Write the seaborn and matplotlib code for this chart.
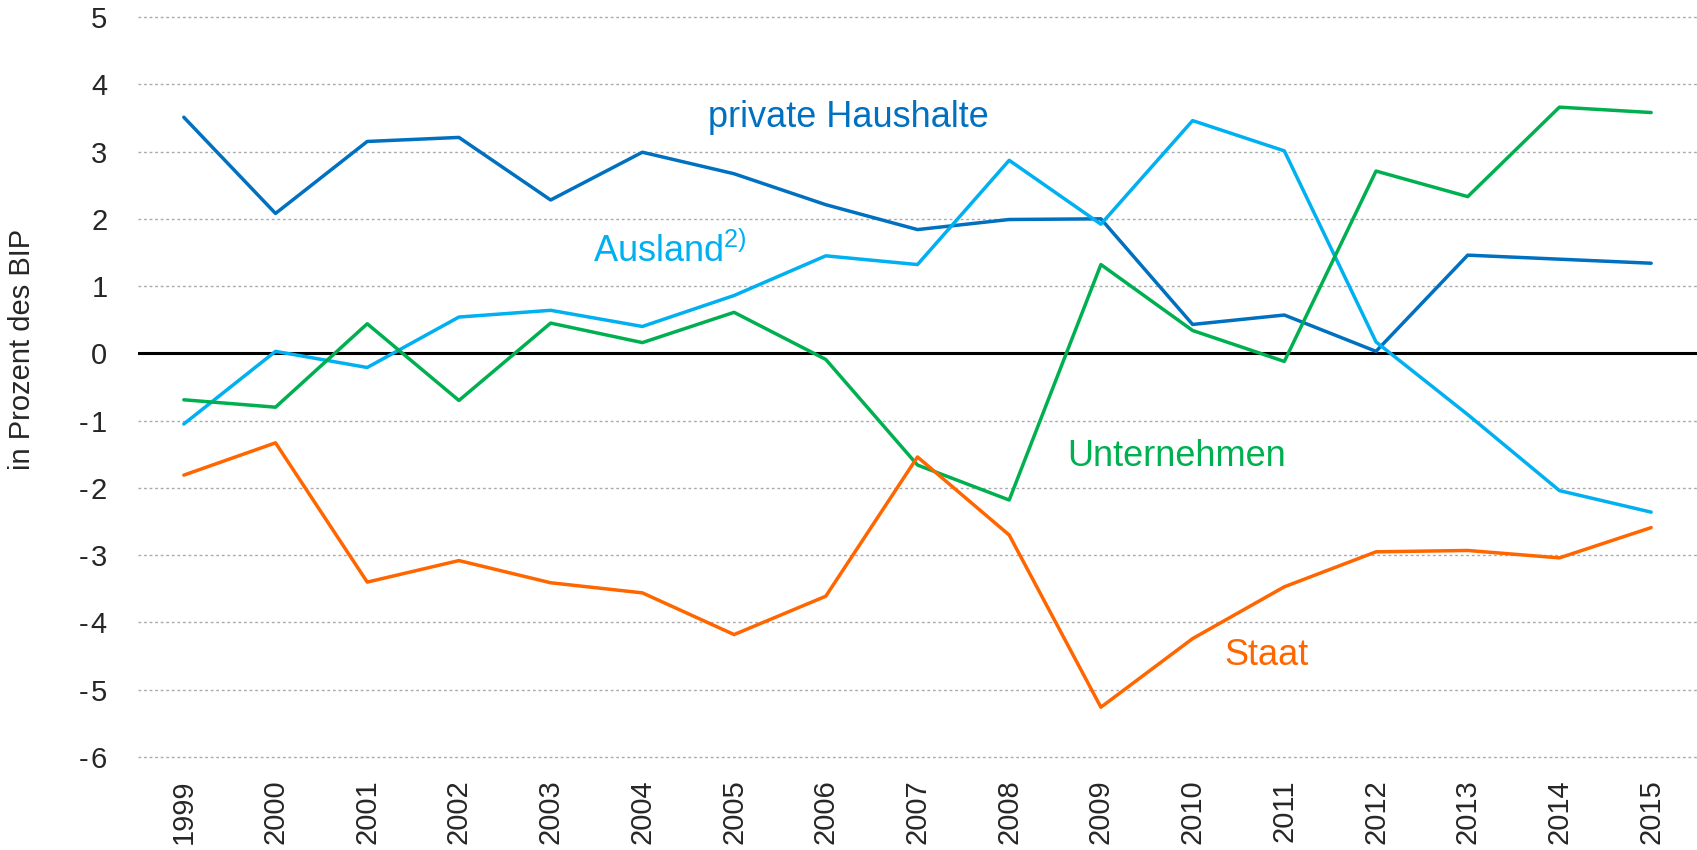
import pandas as pd
import matplotlib.pyplot as plt
import seaborn as sns

# Finanzierungssalden der Sektoren, in Prozent des BIP
years = [str(y) for y in range(1999, 2016)]
haushalte = [3.51, 2.08, 3.15, 3.21, 2.28, 2.99, 2.67, 2.21, 1.84, 1.99, 2.00, 0.43, 0.57, 0.03, 1.46, 1.40, 1.34]
ausland = [-1.05, 0.03, -0.21, 0.54, 0.64, 0.40, 0.86, 1.45, 1.32, 2.87, 1.92, 3.46, 3.01, 0.17, -0.91, -2.04, -2.36]
unternehmen = [-0.69, -0.80, 0.44, -0.70, 0.45, 0.16, 0.61, -0.09, -1.66, -2.18, 1.32, 0.34, -0.12, 2.71, 2.33, 3.66, 3.58]
staat = [-1.81, -1.33, -3.40, -3.08, -3.41, -3.56, -4.18, -3.61, -1.54, -2.70, -5.26, -4.24, -3.47, -2.95, -2.93, -3.04, -2.59]
yticks = list(range(-6, 6))

series = {"private Haushalte": haushalte, "Ausland": ausland,
          "Unternehmen": unternehmen, "Staat": staat}
colors = {"private Haushalte": "#0070C0", "Ausland": "#00B0F0",
          "Unternehmen": "#00B050", "Staat": "#FF6600"}

df = pd.DataFrame(series, index=years).reset_index(names="Jahr")
df_long = df.melt(id_vars="Jahr", var_name="Sektor", value_name="Wert")

sns.set_style("white")
plt.rcParams['font.family'] = ['Liberation Sans', 'DejaVu Sans']

fig = plt.figure(figsize=(16.97, 8.5), dpi=100)
ax = fig.add_axes([0.0813, 0.1094, 0.9187, 0.8706])

# gridlines first so the lines sit on top
for v in yticks:
    if v == 0:
        ax.axhline(0, color="black", lw=2.2, zorder=1)
    else:
        ax.axhline(v, color="#AAAAAA", lw=1.0, ls=(0, (2, 2)), zorder=0, clip_on=False)

sns.lineplot(data=df_long, x="Jahr", y="Wert", hue="Sektor", palette=colors,
             lw=2.5, legend=False, ax=ax, zorder=3)

ax.set_xlim(-0.5, len(years) - 0.5)
ax.set_ylim(-6, 5)
ax.set_yticks(yticks)
ax.set_yticklabels([("-\u200a" + str(-v)) if v < 0 else str(v) for v in yticks])
ax.tick_params(axis="y", length=0, pad=22, labelsize=21)
ax.tick_params(axis="x", length=0, pad=16, labelsize=21, rotation=90)
ax.set_xlabel("")
ax.set_ylabel("in Prozent des BIP", fontsize=21)
ax.yaxis.set_label_coords(-0.0654, 0.551)
for s in ax.spines.values():
    s.set_visible(False)

ax.text(5.72, 3.5, "private Haushalte", color=colors["private Haushalte"],
        fontsize=26, ha="left", va="center")
ax.text(4.46, 1.52, r"Ausland$^{\mathregular{2)}}$", color=colors["Ausland"],
        fontsize=26, ha="left", va="center")
ax.text(9.63, -1.54, "Unternehmen", color=colors["Unternehmen"],
        fontsize=26, ha="left", va="center")
ax.text(11.35, -4.49, "Staat", color=colors["Staat"],
        fontsize=26, ha="left", va="center")

fig.savefig("out.png", dpi=100)
